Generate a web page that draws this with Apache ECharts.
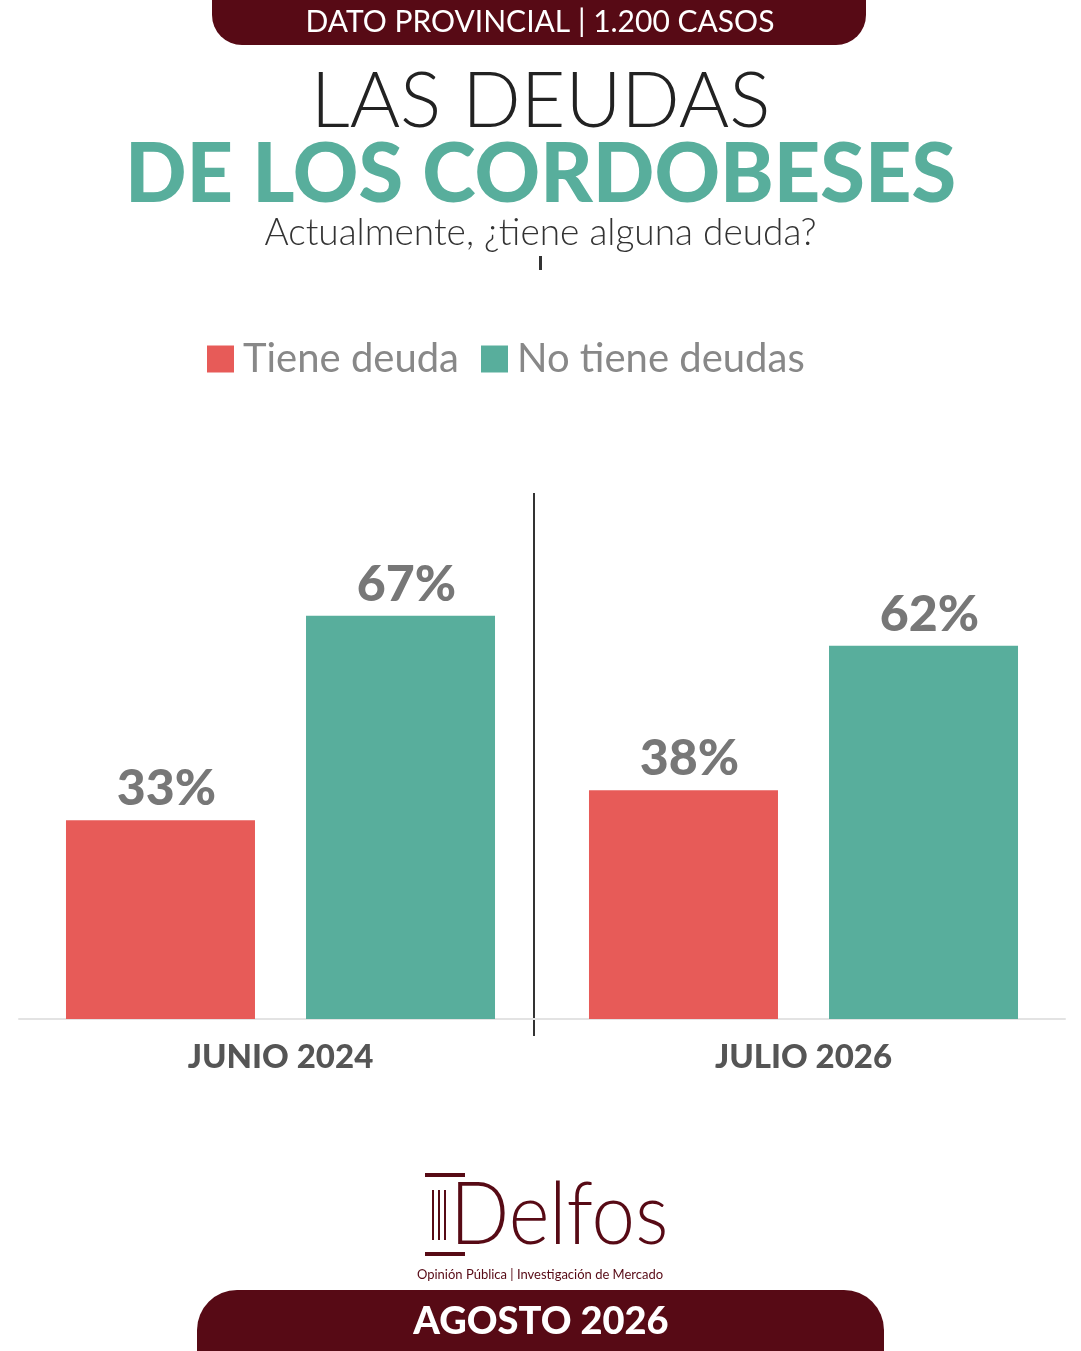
<!DOCTYPE html>
<html style="height: 100%">
<head>
<meta charset="utf-8">
</head>
<body style="height: 100%; margin: 0; background: #fff">
<div id="container" style="width: 1081px; height: 1351px"></div>
<script src="https://cdn.jsdelivr.net/npm/echarts@6/dist/echarts.min.js"></script>
<script type="text/javascript">
// data
var periods = ['JUNIO 2024', 'JULIO 2026'];
var seriesNames = ['Tiene deuda', 'No tiene deudas'];
var tieneDeuda = [33, 38];
var noTieneDeudas = [67, 62];

var RED = '#e75b58';
var GREEN = '#58ae9c';
var MAROON = '#570a15';
var FONT = 'Lato, "Open Sans", sans-serif';

var dom = document.getElementById('container');
var myChart = echarts.init(dom);

function barSeries(name, data, color) {
    return {
        name: name,
        type: 'bar',
        data: data,
        barWidth: 189,
        barGap: '27%',
        itemStyle: { color: color },
        label: {
            show: true,
            position: 'top',
            distance: 6,
            offset: [6, 0],
            formatter: '{c}%',
            color: '#777777',
            fontFamily: FONT,
            fontWeight: 900,
            fontSize: 50
        }
    };
}

var option = {
    backgroundColor: '#ffffff',
    animation: false,
    title: [
        {
            text: 'LAS DEUDAS',
            left: 'center',
            top: 59,
            textStyle: { fontFamily: FONT, fontWeight: 300, fontSize: 77, color: '#222222' }
        },
        {
            text: 'DE LOS CORDOBESES',
            left: 'center',
            top: 130,
            textStyle: { fontFamily: FONT, fontWeight: 900, fontSize: 81, color: GREEN }
        },
        {
            text: 'Actualmente, ¿tiene alguna deuda?',
            left: 'center',
            top: 210,
            textStyle: { fontFamily: FONT, fontWeight: 300, fontSize: 37, color: '#333333' }
        }
    ],
    legend: {
        data: seriesNames,
        top: 334,
        left: 202,
        itemWidth: 27,
        itemHeight: 27,
        itemGap: 22,
        icon: 'rect',
        textStyle: { fontFamily: FONT, fontSize: 40, color: '#888888', padding: [0, 0, 0, 4] }
    },
    grid: { left: 19, right: 16, top: 417, bottom: 332 },
    xAxis: {
        type: 'category',
        data: periods,
        axisLine: { lineStyle: { color: '#e3e3e3', width: 2 } },
        axisTick: { show: false },
        axisLabel: {
            margin: 22,
            color: '#555555',
            fontFamily: FONT,
            fontWeight: 900,
            fontSize: 33
        }
    },
    yAxis: {
        type: 'value',
        min: 0,
        max: 100,
        show: false,
        splitLine: { show: false }
    },
    series: [
        barSeries(seriesNames[0], tieneDeuda, RED),
        barSeries(seriesNames[1], noTieneDeudas, GREEN)
    ],
    graphic: [
        // top banner
        {
            type: 'rect',
            shape: { x: 212, y: -30, width: 654, height: 75, r: 30 },
            style: { fill: MAROON }
        },
        {
            type: 'text',
            x: 540, y: 22,
            style: {
                text: 'DATO PROVINCIAL | 1.200 CASOS',
                fill: '#ffffff',
                font: '400 30px Lato, sans-serif',
                textAlign: 'center',
                textVerticalAlign: 'middle'
            }
        },
        // small tick under subtitle
        {
            type: 'rect',
            shape: { x: 539, y: 256, width: 3, height: 14 },
            style: { fill: '#333333' }
        },
        // divider between periods
        {
            type: 'line',
            shape: { x1: 534, y1: 493, x2: 534, y2: 1036 },
            style: { stroke: '#333333', lineWidth: 2 }
        },
        // logo pillar
        { type: 'rect', shape: { x: 425, y: 1173, width: 40, height: 4 }, style: { fill: MAROON } },
        { type: 'rect', shape: { x: 425, y: 1252, width: 40, height: 4 }, style: { fill: MAROON } },
        { type: 'rect', shape: { x: 432, y: 1190, width: 2, height: 50 }, style: { fill: MAROON } },
        { type: 'rect', shape: { x: 438, y: 1190, width: 2, height: 50 }, style: { fill: MAROON } },
        { type: 'rect', shape: { x: 444, y: 1190, width: 2, height: 50 }, style: { fill: MAROON } },
        {
            type: 'text',
            x: 450, y: 1216,
            scaleY: 1.12,
            originX: 0,
            originY: 0,
            style: {
                text: 'Delfos',
                fill: MAROON,
                font: '300 78px Lato, sans-serif',
                textAlign: 'left',
                textVerticalAlign: 'middle'
            }
        },
        {
            type: 'text',
            x: 540, y: 1275,
            style: {
                text: 'Opinión Pública | Investigación de Mercado',
                fill: MAROON,
                font: '400 13px Lato, sans-serif',
                textAlign: 'center',
                textVerticalAlign: 'middle'
            }
        },
        // bottom banner
        {
            type: 'rect',
            shape: { x: 197, y: 1290, width: 687, height: 100, r: 40 },
            style: { fill: MAROON }
        },
        {
            type: 'text',
            x: 541, y: 1322,
            style: {
                text: 'AGOSTO 2026',
                fill: '#ffffff',
                font: '900 38px Lato, sans-serif',
                textAlign: 'center',
                textVerticalAlign: 'middle'
            }
        }
    ]
};

myChart.setOption(option);
</script>
</body>
</html>
